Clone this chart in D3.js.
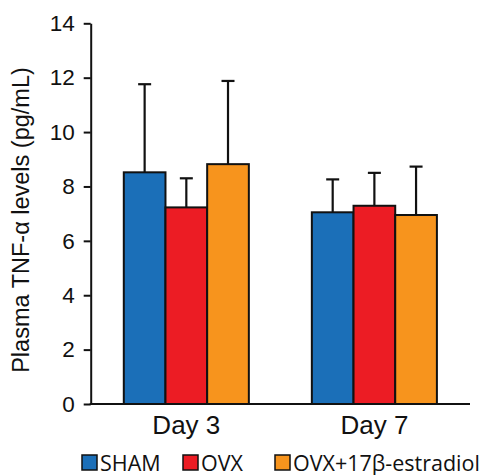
<!DOCTYPE html>
<html>
<head>
<meta charset="utf-8">
<script src="https://cdn.jsdelivr.net/npm/d3@7"></script>
<style>
  body { margin: 0; background: #fff; }
  svg { display: block; }
</style>
</head>
<body>
<div id="chart"></div>
<script>
/* data */
var days = ["Day 3", "Day 7"];
var groups = ["SHAM", "OVX", "OVX+17β-estradiol"];
var shamMean = [8.52, 7.05],
    ovxMean = [7.23, 7.29],
    estMean = [8.82, 6.95];
var shamErr = [3.24, 1.21],
    ovxErr = [1.07, 1.21],
    estErr = [3.06, 1.78];
var yTicks = [0, 2, 4, 6, 8, 10, 12, 14];
var colors = ["#1b6fb8", "#ec1c24", "#f7941d"];

var means = [shamMean, ovxMean, estMean],
    errs = [shamErr, ovxErr, estErr];

var rows = [];
days.forEach(function(day, i) {
    groups.forEach(function(g, j) {
        rows.push({ day: day, group: g, mean: means[j][i], err: errs[j][i] });
    });
});

var width = 486, height = 475;
var plotLeft = 90.7, plotRight = 470, plotTop = 23.3, plotBottom = 404;

var svg = d3.select("#chart")
    .append("svg")
    .attr("width", width)
    .attr("height", height);

var x = d3.scaleBand()
    .domain(days)
    .range([plotLeft, plotRight])
    .paddingInner(0.335)
    .paddingOuter(0.176);

var x1 = d3.scaleBand()
    .domain(groups)
    .range([0, x.bandwidth()]);

var y = d3.scaleLinear()
    .domain([0, 14])
    .range([plotBottom, plotTop]);

var color = d3.scaleOrdinal().domain(groups).range(colors);

function cx(d) { return x(d.day) + x1(d.group) + x1.bandwidth() / 2; }

/* error bars (upper only), drawn before bars */
var eb = svg.append("g").selectAll("g")
    .data(rows)
    .enter().append("g")
        .attr("stroke", "#111")
        .attr("stroke-width", 2.2);

eb.append("line")
    .attr("x1", cx)
    .attr("x2", cx)
    .attr("y1", function(d) { return y(d.mean); })
    .attr("y2", function(d) { return y(d.mean + d.err); });

eb.append("line")
    .attr("x1", function(d) { return cx(d) - 6.5; })
    .attr("x2", function(d) { return cx(d) + 6.5; })
    .attr("y1", function(d) { return y(d.mean + d.err); })
    .attr("y2", function(d) { return y(d.mean + d.err); });

/* bars */
svg.append("g").selectAll("rect")
    .data(rows)
    .enter().append("rect")
        .attr("x", function(d) { return x(d.day) + x1(d.group); })
        .attr("y", function(d) { return y(d.mean); })
        .attr("width", x1.bandwidth())
        .attr("height", function(d) { return y(0) - y(d.mean); })
        .attr("fill", function(d) { return color(d.group); })
        .attr("stroke", "#111")
        .attr("stroke-width", 2);

/* y axis */
var yAxis = svg.append("g")
    .attr("transform", "translate(" + plotLeft + ",0)")
    .call(d3.axisLeft(y).tickValues(yTicks).tickSize(7).tickPadding(9).tickSizeOuter(0));
yAxis.selectAll("path, line").attr("stroke", "#111").attr("stroke-width", 2);
yAxis.selectAll("text")
    .attr("font-family", "Liberation Sans, Arial, sans-serif")
    .attr("font-size", 22.5)
    .attr("fill", "#111");

/* x axis */
var xAxis = svg.append("g")
    .attr("transform", "translate(0," + plotBottom + ")")
    .call(d3.axisBottom(x).tickSize(0).tickSizeOuter(0).tickPadding(12));
xAxis.select("path").attr("stroke", "#111").attr("stroke-width", 2)
    .attr("d", "M" + (plotLeft - 1) + ",0H" + plotRight);
xAxis.selectAll("text")
    .attr("font-family", "Liberation Sans, Arial, sans-serif")
    .attr("font-size", 26)
    .attr("fill", "#111");

/* y label */
svg.append("text")
    .attr("transform", "translate(29,220)rotate(-90)")
    .attr("text-anchor", "middle")
    .attr("font-family", "Liberation Sans, Arial, sans-serif")
    .attr("font-size", 23.5)
    .attr("fill", "#111")
    .text("Plasma TNF-α levels (pg/mL)");

/* legend */
var legendX = [82, 183, 275];
var note = svg.append("g").selectAll("g")
    .data(groups)
    .enter().append("g")
        .attr("transform", function(d, i) { return "translate(" + legendX[i] + ",455)"; });

note.append("rect")
    .attr("width", 15)
    .attr("height", 15)
    .attr("fill", color)
    .attr("stroke", "#111")
    .attr("stroke-width", 1.5);

note.append("text")
    .attr("x", 18)
    .attr("y", 15.5)
    .attr("font-family", "Open Sans, sans-serif")
    .attr("font-size", 21.5)
    .attr("fill", "#111")
    .text(function(d) { return d; });
</script>
</body>
</html>
